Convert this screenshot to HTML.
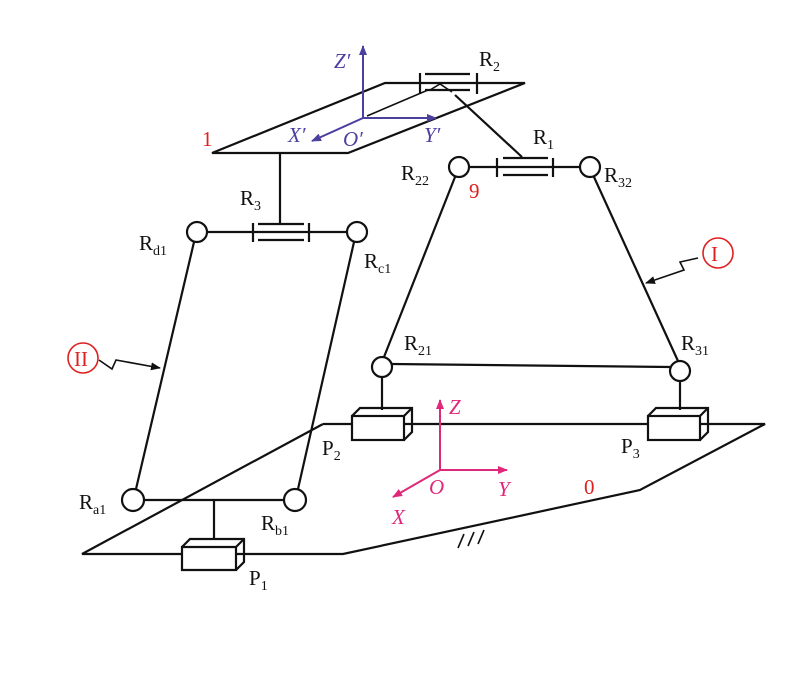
<!DOCTYPE html>
<html><head><meta charset="utf-8"><style>
body{margin:0;background:#fff}
svg{display:block}
text{font-family:"Liberation Serif",serif;font-size:21px}
.s{font-size:14px}
</style></head><body>
<svg width="801" height="680" viewBox="0 0 801 680" xmlns="http://www.w3.org/2000/svg">
<defs>
<marker id="ap" markerWidth="10" markerHeight="8" refX="9" refY="4" orient="auto" markerUnits="userSpaceOnUse"><path d="M0,0 L10,4 L0,8 Z" fill="#4b3fa0"/></marker>
<marker id="am" markerWidth="10" markerHeight="8" refX="9" refY="4" orient="auto" markerUnits="userSpaceOnUse"><path d="M0,0 L10,4 L0,8 Z" fill="#e0287a"/></marker>
<marker id="ak" markerWidth="10" markerHeight="8" refX="9" refY="4" orient="auto" markerUnits="userSpaceOnUse"><path d="M0,0 L10,4 L0,8 Z" fill="#111"/></marker>
</defs>
<g stroke="#111" stroke-width="2.2" fill="none">
<!-- base plate -->
<polyline points="323,424 765,424 640,490 343,554 82,554 323,424"/>
<!-- top platform -->
<polygon points="212,153 348,153 525,83 385,83"/>
<line x1="428" y1="90" x2="367" y2="116" stroke-width="1.6"/>
<!-- R2 joint -->
<line x1="420" y1="73" x2="420" y2="94"/><line x1="477" y1="73" x2="477" y2="94"/>
<line x1="425" y1="74" x2="470" y2="74"/><line x1="425" y1="90" x2="470" y2="90"/>
<polyline points="430,90 440,84 452,92" stroke-width="1.6"/>
<line x1="455" y1="95" x2="522" y2="157"/>
<!-- R1 -->
<circle cx="459" cy="167" r="10" fill="#fff"/><circle cx="590" cy="167" r="10" fill="#fff"/>
<line x1="469" y1="167" x2="580" y2="167"/>
<line x1="497" y1="158" x2="497" y2="177"/><line x1="553" y1="158" x2="553" y2="177"/>
<line x1="503" y1="158" x2="548" y2="158"/><line x1="503" y1="175" x2="548" y2="175"/>
<!-- R3 -->
<line x1="280" y1="153" x2="280" y2="224"/>
<circle cx="197" cy="232" r="10" fill="#fff"/><circle cx="357" cy="232" r="10" fill="#fff"/>
<line x1="207" y1="232" x2="347" y2="232"/>
<line x1="253" y1="223" x2="253" y2="242"/><line x1="309" y1="223" x2="309" y2="242"/>
<line x1="258" y1="224" x2="304" y2="224"/><line x1="258" y1="240" x2="304" y2="240"/>
<!-- left legs -->
<line x1="194" y1="242" x2="136" y2="489"/>
<line x1="354" y1="242" x2="298" y2="489"/>
<circle cx="133" cy="500" r="11" fill="#fff"/><circle cx="295" cy="500" r="11" fill="#fff"/>
<line x1="144" y1="500" x2="284" y2="500"/>
<line x1="214" y1="500" x2="214" y2="540"/>
<!-- P1 -->
<polygon points="182,547 236,547 236,570 182,570" fill="#fff"/>
<polyline points="182,547 190,539 244,539 244,562 236,570"/><line x1="236" y1="547" x2="244" y2="539"/>
<!-- right legs -->
<line x1="455" y1="177" x2="384" y2="357"/>
<line x1="594" y1="177" x2="678" y2="361"/>
<circle cx="382" cy="367" r="10" fill="#fff"/><circle cx="680" cy="371" r="10" fill="#fff"/>
<line x1="392" y1="364" x2="670" y2="367"/>
<line x1="382" y1="377" x2="382" y2="410"/><line x1="680" y1="381" x2="680" y2="410"/>
<!-- P2 -->
<rect x="352" y="416" width="52" height="24" fill="#fff"/>
<polyline points="352,416 360,408 412,408 412,432 404,440"/><line x1="404" y1="416" x2="412" y2="408"/>
<!-- P3 -->
<rect x="648" y="416" width="52" height="24" fill="#fff"/>
<polyline points="648,416 656,408 708,408 708,432 700,440"/><line x1="700" y1="416" x2="708" y2="408"/>
<!-- hatch -->
<line x1="458" y1="548" x2="464" y2="534" stroke-width="1.6"/><line x1="468" y1="546" x2="474" y2="532" stroke-width="1.6"/><line x1="478" y1="544" x2="484" y2="530" stroke-width="1.6"/>
<!-- zigzag arrows -->
<polyline points="698,258 680,262 684,270 646,283" stroke-width="1.6" marker-end="url(#ak)"/>
<polyline points="99,360 112,369 116,360 160,368" stroke-width="1.6" marker-end="url(#ak)"/>
</g>
<!-- top axes -->
<g stroke="#4b3fa0" stroke-width="2" fill="none">
<line x1="363" y1="118" x2="363" y2="46" marker-end="url(#ap)"/>
<line x1="363" y1="118" x2="436" y2="118" marker-end="url(#ap)"/>
<line x1="363" y1="118" x2="312" y2="141" marker-end="url(#ap)"/>
</g>
<!-- base axes -->
<g stroke="#e0287a" stroke-width="2" fill="none">
<line x1="440" y1="470" x2="440" y2="400" marker-end="url(#am)"/>
<line x1="440" y1="470" x2="507" y2="470" marker-end="url(#am)"/>
<line x1="440" y1="470" x2="393" y2="497" marker-end="url(#am)"/>
</g>
<circle cx="718" cy="253" r="15" fill="none" stroke="#e02020" stroke-width="1.6"/>
<circle cx="83" cy="358" r="15" fill="none" stroke="#e02020" stroke-width="1.6"/>
<g fill="#e02020">
<text x="711" y="261">I</text><text x="74" y="366">II</text>
<text x="202" y="146">1</text><text x="469" y="198">9</text><text x="584" y="494">0</text>
</g>
<g fill="#4b3fa0" font-style="italic">
<text x="334" y="68" style="font-style:italic">Z′</text>
<text x="288" y="142" style="font-style:italic">X′</text>
<text x="343" y="146" style="font-style:italic">O′</text>
<text x="424" y="142" style="font-style:italic">Y′</text>
</g>
<g fill="#e0287a">
<text x="449" y="414" style="font-style:italic">Z</text>
<text x="429" y="494" style="font-style:italic">O</text>
<text x="498" y="496" style="font-style:italic">Y</text>
<text x="392" y="524" style="font-style:italic">X</text>
</g>
<g fill="#111">
<text x="479" y="66">R<tspan class="s" dy="5">2</tspan></text>
<text x="533" y="144">R<tspan class="s" dy="5">1</tspan></text>
<text x="401" y="180">R<tspan class="s" dy="5">22</tspan></text>
<text x="604" y="182">R<tspan class="s" dy="5">32</tspan></text>
<text x="240" y="205">R<tspan class="s" dy="5">3</tspan></text>
<text x="139" y="250">R<tspan class="s" dy="5">d1</tspan></text>
<text x="364" y="268">R<tspan class="s" dy="5">c1</tspan></text>
<text x="404" y="350">R<tspan class="s" dy="5">21</tspan></text>
<text x="681" y="350">R<tspan class="s" dy="5">31</tspan></text>
<text x="79" y="509">R<tspan class="s" dy="5">a1</tspan></text>
<text x="261" y="530">R<tspan class="s" dy="5">b1</tspan></text>
<text x="322" y="455">P<tspan class="s" dy="5">2</tspan></text>
<text x="621" y="453">P<tspan class="s" dy="5">3</tspan></text>
<text x="249" y="585">P<tspan class="s" dy="5">1</tspan></text>
</g>
</svg>
</body></html>
